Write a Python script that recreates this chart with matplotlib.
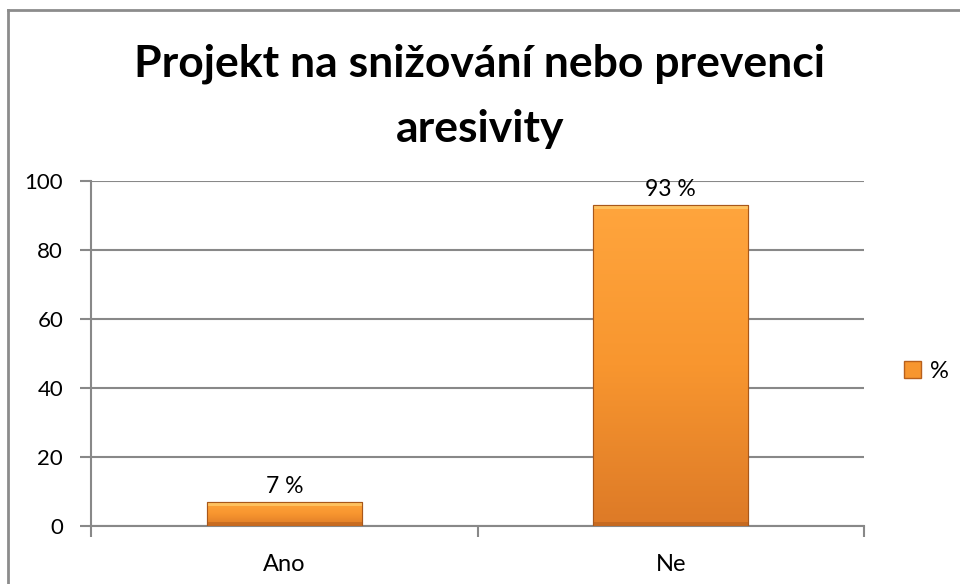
import numpy as np
import matplotlib
matplotlib.use("Agg")
import matplotlib.pyplot as plt
from matplotlib.lines import Line2D
from matplotlib.patches import Rectangle

# data
kategorie = ["Ano", "Ne"]
hodnoty = [7, 93]
popisky = ["7 %", "93 %"]
nazev = ["Projekt na snižování nebo prevenci", "aresivity"]
legenda = "%"

plt.rcParams['font.family'] = ['Lato', 'DejaVu Sans']

fig = plt.figure(figsize=(9.6, 5.84), dpi=100)
ax = fig.add_axes([91/960, 1 - 526/584, (864-91)/960, (526-181)/584])

x = np.arange(len(kategorie))
sirka = 0.40
sloupce = ax.bar(x, hodnoty, width=sirka, color="#F7962F", edgecolor="#B8601C",
                 linewidth=0.8, zorder=3, label=legenda)

# gradient v sloupcich
grad = np.linspace(0, 1, 256).reshape(-1, 1)
cmap = matplotlib.colors.LinearSegmentedColormap.from_list(
    "or", ["#FFA53D", "#F8962F", "#DD7A27"])
for s in sloupce:
    x0, w, h = s.get_x(), s.get_width(), s.get_height()
    im = ax.imshow(grad, extent=[x0, x0 + w, 0, h], aspect="auto",
                   cmap=cmap, origin="upper", zorder=3.5)
    im.set_clip_path(s)
    ax.add_patch(Rectangle((x0, h - 1.2), w, 1.2, color="#FFD070", alpha=0.7,
                           zorder=4, lw=0))
    ax.add_patch(Rectangle((x0, 0), w, 1.2, color="#B8601C", alpha=0.6,
                           zorder=4, lw=0))
    ax.add_patch(Rectangle((x0, 0), w, h, fill=False, edgecolor="#A8571A",
                           lw=0.8, zorder=5))

for xi, v, t in zip(x, hodnoty, popisky):
    ax.text(xi, v + 1.5, t, ha="center", va="bottom", fontsize=16.5, zorder=6)

ax.set_xlim(-0.5, len(kategorie) - 0.5)
ax.set_ylim(0, 100)
ax.set_yticks(range(0, 101, 20))
ax.set_xticks(np.arange(-0.5, len(kategorie), 1))
ax.set_xticklabels([])
ax.set_xticks(x, minor=True)
ax.set_xticklabels(kategorie, minor=True)
ax.tick_params(axis="x", which="minor", length=0, pad=20, labelsize=17)
ax.tick_params(axis="x", which="major", length=8, width=1.5, color="#888888",
               direction="out")
ax.tick_params(axis="y", length=8, width=1.5, color="#888888", pad=12,
               labelsize=16)
ax.yaxis.grid(True, color="#888888", linewidth=1.5, zorder=0)
ax.set_axisbelow(True)
for sp in ["top", "right"]:
    ax.spines[sp].set_visible(False)
for sp in ["left", "bottom"]:
    ax.spines[sp].set_color("#888888")
    ax.spines[sp].set_linewidth(1.5)

fig.text(0.5, 1 - 77/584, nazev[0], ha="center", va="baseline", fontsize=32,
         fontweight="bold")
fig.text(0.5, 1 - 142/584, nazev[1], ha="center", va="baseline", fontsize=32,
         fontweight="bold")

leg = fig.legend(handles=[Rectangle((0, 0), 1, 1, facecolor="#F7962F",
                                    edgecolor="#B8601C")],
                 labels=[legenda], loc="center left",
                 bbox_to_anchor=(904/960, 1 - 371/584), frameon=False,
                 fontsize=17, handlelength=0.7, handleheight=0.7,
                 handletextpad=0.4, borderpad=0, borderaxespad=0)

# okraj grafu
fig.add_artist(Line2D([8/960, 8/960], [0, 1 - 10/584], color="#8c8c8c", lw=2))
fig.add_artist(Line2D([8/960, 1], [1 - 10/584, 1 - 10/584], color="#8c8c8c", lw=2))

fig.savefig("out.png", dpi=100)
